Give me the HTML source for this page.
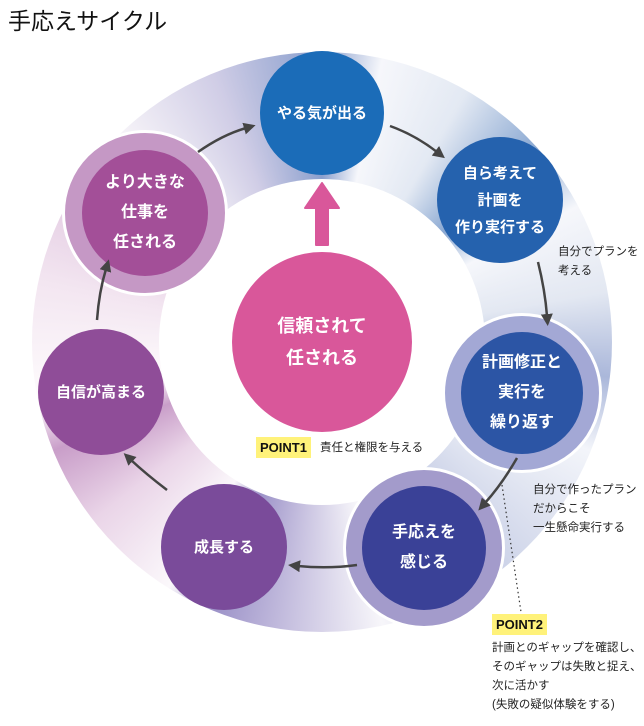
<!DOCTYPE html>
<html><head><meta charset="utf-8"><style>
body{margin:0;width:644px;height:726px;background:#fff;position:relative;overflow:hidden;font-family:"Liberation Sans","Noto Sans CJK JP",sans-serif;}
.t{position:absolute;left:8px;top:2px;font-size:23px;color:#111;}
.band{position:absolute;left:32px;top:52px;width:580px;height:580px;border-radius:50%;
background:conic-gradient(from 0deg,#8a9fcd 0deg,#f6f7fb 12deg,#e3e9f3 30deg,#8aa8d2 48deg,#f6f7fb 62deg,#e3e8f2 80deg,#aab7da 97deg,#f3f5fa 112deg,#c8cfe6 145deg,#f7f6fa 168deg,#cbc5e2 185deg,#9c92c8 202deg,#fbf8fb 212deg,#ead5e8 232deg,#c99ec9 248deg,#fefcfd 258deg,#f3e6f1 282deg,#e0c6df 305deg,#f8f5f9 315deg,#d0cde6 338deg,#8a9fcd 360deg);}
.inner{position:absolute;left:159px;top:179px;width:326px;height:326px;border-radius:50%;background:#fff;}
.c{position:absolute;border-radius:50%;display:flex;align-items:center;justify-content:center;text-align:center;color:#fff;font-weight:bold;font-size:15px;line-height:27px;box-sizing:border-box;}
.lbl{position:absolute;font-size:11.5px;color:#222;line-height:19px;}
.pt{position:absolute;background:#fff27a;font-weight:bold;font-size:13px;color:#111;padding:0 4px;height:21px;line-height:21px;}
</style></head><body>
<div class="t">手応えサイクル</div>
<div class="band"></div>
<div class="inner"></div>
<div class="c" style="left:260px;top:51px;width:124px;height:124px;background:#1b6cb8">やる気が出る</div>
<div class="c" style="left:437px;top:137px;width:126px;height:126px;background:#2562ae">自ら考えて<br>計画を<br>作り実行する</div>
<div class="c" style="left:442px;top:313px;width:160px;height:160px;background:#a3a8d5;border:3px solid #fff"><div class="c" style="position:static;width:122px;height:122px;background:#2c55a5;font-size:16px;line-height:30px">計画修正と<br>実行を<br>繰り返す</div></div>
<div class="c" style="left:343px;top:467px;width:162px;height:162px;background:#a39bcb;border:3px solid #fff"><div class="c" style="position:static;width:124px;height:124px;background:#3a4197;font-size:16px;line-height:30px">手応えを<br>感じる</div></div>
<div class="c" style="left:161px;top:484px;width:126px;height:126px;background:#7a4b9a">成長する</div>
<div class="c" style="left:38px;top:329px;width:126px;height:126px;background:#8f4d98">自信が高まる</div>
<div class="c" style="left:62px;top:130px;width:166px;height:166px;background:#c598c5;border:3px solid #fff"><div class="c" style="position:static;width:126px;height:126px;background:#a34f98;font-size:16px;line-height:30px">より大きな<br>仕事を<br>任される</div></div>
<div class="c" style="left:232px;top:252px;width:180px;height:180px;background:#d9579a;font-size:18px;line-height:32px;font-weight:bold">信頼されて<br>任される</div>
<svg width="644" height="726" style="position:absolute;left:0;top:0">
<defs><marker id="a" markerWidth="12" markerHeight="12" refX="2" refY="6" orient="auto" markerUnits="userSpaceOnUse"><path d="M0,0 L12,6 L0,12 z" fill="#444"/></marker></defs>
<g stroke="#444" stroke-width="2.5" fill="none" marker-end="url(#a)">
<path d="M198,152 Q222,135 246,128"/>
<path d="M390,126 Q415,135 437,152"/>
<path d="M538,262 Q545,290 547,316"/>
<path d="M517,458 Q502,484 485,503"/>
<path d="M357,565 Q328,569 298,566"/>
<path d="M167,490 Q146,474 131,460"/>
<path d="M97,320 Q99,292 106,269"/>
</g>
<line x1="502" y1="485" x2="521" y2="612" stroke="#333" stroke-width="1.2" stroke-dasharray="1.5,3"/>
<path d="M316,245 L316,208 L305,208 L322,183 L339,208 L328,208 L328,245 Z" fill="#d9579a" stroke="#d9579a" stroke-width="2" stroke-linejoin="round"/>
</svg>
<div class="pt" style="left:256px;top:437px">POINT1</div>
<div class="lbl" style="left:320px;top:439px">責任と権限を与える</div>
<div class="lbl" style="left:558px;top:243px">自分でプランを<br>考える</div>
<div class="lbl" style="left:533px;top:481px">自分で作ったプラン<br>だからこそ<br>一生懸命実行する</div>
<div class="pt" style="left:492px;top:614px">POINT2</div>
<div class="lbl" style="left:492px;top:639px">計画とのギャップを確認し、<br>そのギャップは失敗と捉え、<br>次に活かす<br>(失敗の疑似体験をする)</div>
</body></html>
